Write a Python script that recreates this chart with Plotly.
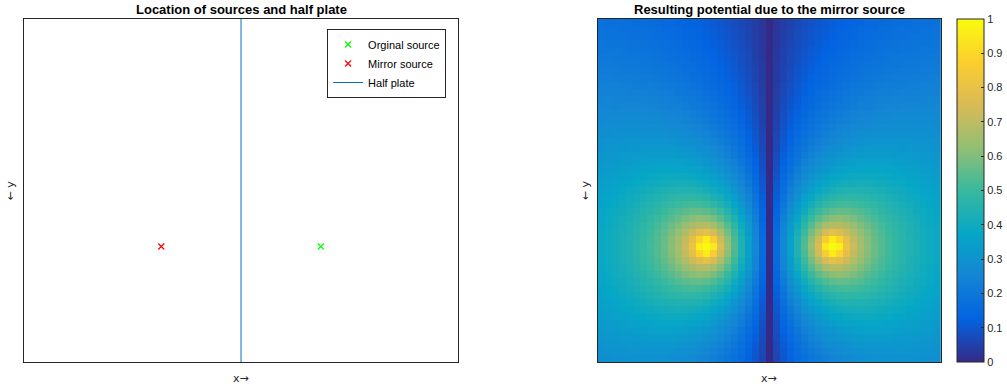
import numpy as np
import plotly.graph_objects as go

# Grid of the potential map (cells)
nx, ny = 49, 49

# Source / mirror source positions (cell coordinates) and their charges
orig_x, orig_y = [34], [33]
mirror_x, mirror_y = [16], [33]
charges = [1.0, -1.0]

# Half plate position (x) and its extent (y)
plate_x = [25, 25]
plate_y = [0.5, 49.5]

# Colour scaling of the potential magnitude
scale, gamma = 0.455, 0.7
cbar_ticks = [0, 0.1, 0.2, 0.3, 0.4, 0.5, 0.6, 0.7, 0.8, 0.9, 1]

parula = [
    [0.0, "#352a87"], [0.125, "#0363e1"], [0.25, "#1485d4"],
    [0.375, "#06a7c6"], [0.5, "#38b99e"], [0.625, "#92bf73"],
    [0.75, "#d9ba56"], [0.875, "#fcce2e"], [1.0, "#f9fb0e"],
]

# Line-charge potential of the source and its mirror image
xs = np.arange(1, nx + 1)
ys = np.arange(1, ny + 1)
X, Y = np.meshgrid(xs, ys)
V = np.zeros_like(X, dtype=float)
with np.errstate(divide="ignore", invalid="ignore"):
    for q, (sx, sy) in zip(charges, [(orig_x[0], orig_y[0]), (mirror_x[0], mirror_y[0])]):
        r = np.hypot(X - sx, Y - sy)
        V += -q * np.log(r)
    V = np.abs(V)
    Z = scale * np.power(V, gamma)
Z[~np.isfinite(Z)] = 1.0
Z = np.clip(Z, 0, 1)

W, H = 1007, 392
FONT = "Liberation Sans, Arial, Helvetica, sans-serif"
AX = "#262626"

def px_x(p):
    return p / W

def px_y(p):
    return 1 - p / H

fig = go.Figure()

fig.add_trace(go.Scatter(
    x=orig_x, y=orig_y, mode="markers", name="Orginal source",
    marker=dict(symbol="x-thin", size=6, color="#00ff00",
                line=dict(width=1.2, color="#00ff00")),
    xaxis="x", yaxis="y"))
fig.add_trace(go.Scatter(
    x=mirror_x, y=mirror_y, mode="markers", name="Mirror source",
    marker=dict(symbol="x-thin", size=6, color="#ff0000",
                line=dict(width=1.2, color="#ff0000")),
    xaxis="x", yaxis="y"))
fig.add_trace(go.Scatter(
    x=plate_x, y=plate_y, mode="lines", name="Half plate",
    line=dict(color="#0072bd", width=1), xaxis="x", yaxis="y"))

fig.add_trace(go.Heatmap(
    z=Z, x=xs, y=ys, colorscale=parula, zmin=0, zmax=1,
    xaxis="x2", yaxis="y2", showscale=True,
    colorbar=dict(
        x=px_x(959), xanchor="left", thickness=27, thicknessmode="pixels",
        len=343, lenmode="pixels", y=px_y(190.5), yanchor="middle",
        outlinecolor=AX, outlinewidth=1, tickvals=cbar_ticks,
        ticktext=[f"{t:g}" for t in cbar_ticks], ticks="inside",
        ticklen=3, tickcolor=AX, tickfont=dict(size=11, color=AX, family=FONT),
        xpad=0, ypad=0),
    hoverinfo="skip", showlegend=False))

box = dict(showline=True, mirror=True, linecolor=AX, linewidth=1,
           showgrid=False, zeroline=False, showticklabels=False, ticks="")

fig.update_layout(
    width=W, height=H, margin=dict(l=0, r=0, t=0, b=0),
    paper_bgcolor="white", plot_bgcolor="white",
    font=dict(family=FONT, color=AX),
    xaxis=dict(domain=[px_x(24), px_x(459)], range=[0.5, 49.5], **box),
    yaxis=dict(domain=[px_y(362), px_y(19)], range=[49.5, 0.5], **box),
    xaxis2=dict(domain=[px_x(599), px_x(943)], range=[0.5, 49.5],
                anchor="y2", **box),
    yaxis2=dict(domain=[px_y(362), px_y(19)], range=[49.5, 0.5],
                anchor="x2", **box),
    legend=dict(x=px_x(447), xanchor="right", y=px_y(29), yanchor="top",
                bgcolor="white", bordercolor=AX, borderwidth=1,
                font=dict(size=11, color="black", family=FONT),
                tracegroupgap=0),
    showlegend=True,
)

LBL = "DejaVu Sans, sans-serif"
annos = [
    dict(text="<b>Location of sources and half plate</b>", x=px_x(241.5), y=px_y(9),
         font=dict(size=13, color="black")),
    dict(text="<b>Resulting potential due to the mirror source</b>", x=px_x(771), y=px_y(9),
         font=dict(size=13, color="black")),
    dict(text="x→", x=px_x(241.5), y=px_y(378), font=dict(size=11, color=AX, family=LBL)),
    dict(text="x→", x=px_x(771), y=px_y(378), font=dict(size=11, color=AX, family=LBL)),
    dict(text="← y", x=px_x(11), y=px_y(190.5), textangle=-90,
         font=dict(size=11, color=AX, family=LBL)),
    dict(text="← y", x=px_x(587), y=px_y(190.5), textangle=-90,
         font=dict(size=11, color=AX, family=LBL)),
]
for a in annos:
    fig.add_annotation(xref="paper", yref="paper", showarrow=False,
                       xanchor="center", yanchor="middle", **a)

fig.write_html("out.html")
